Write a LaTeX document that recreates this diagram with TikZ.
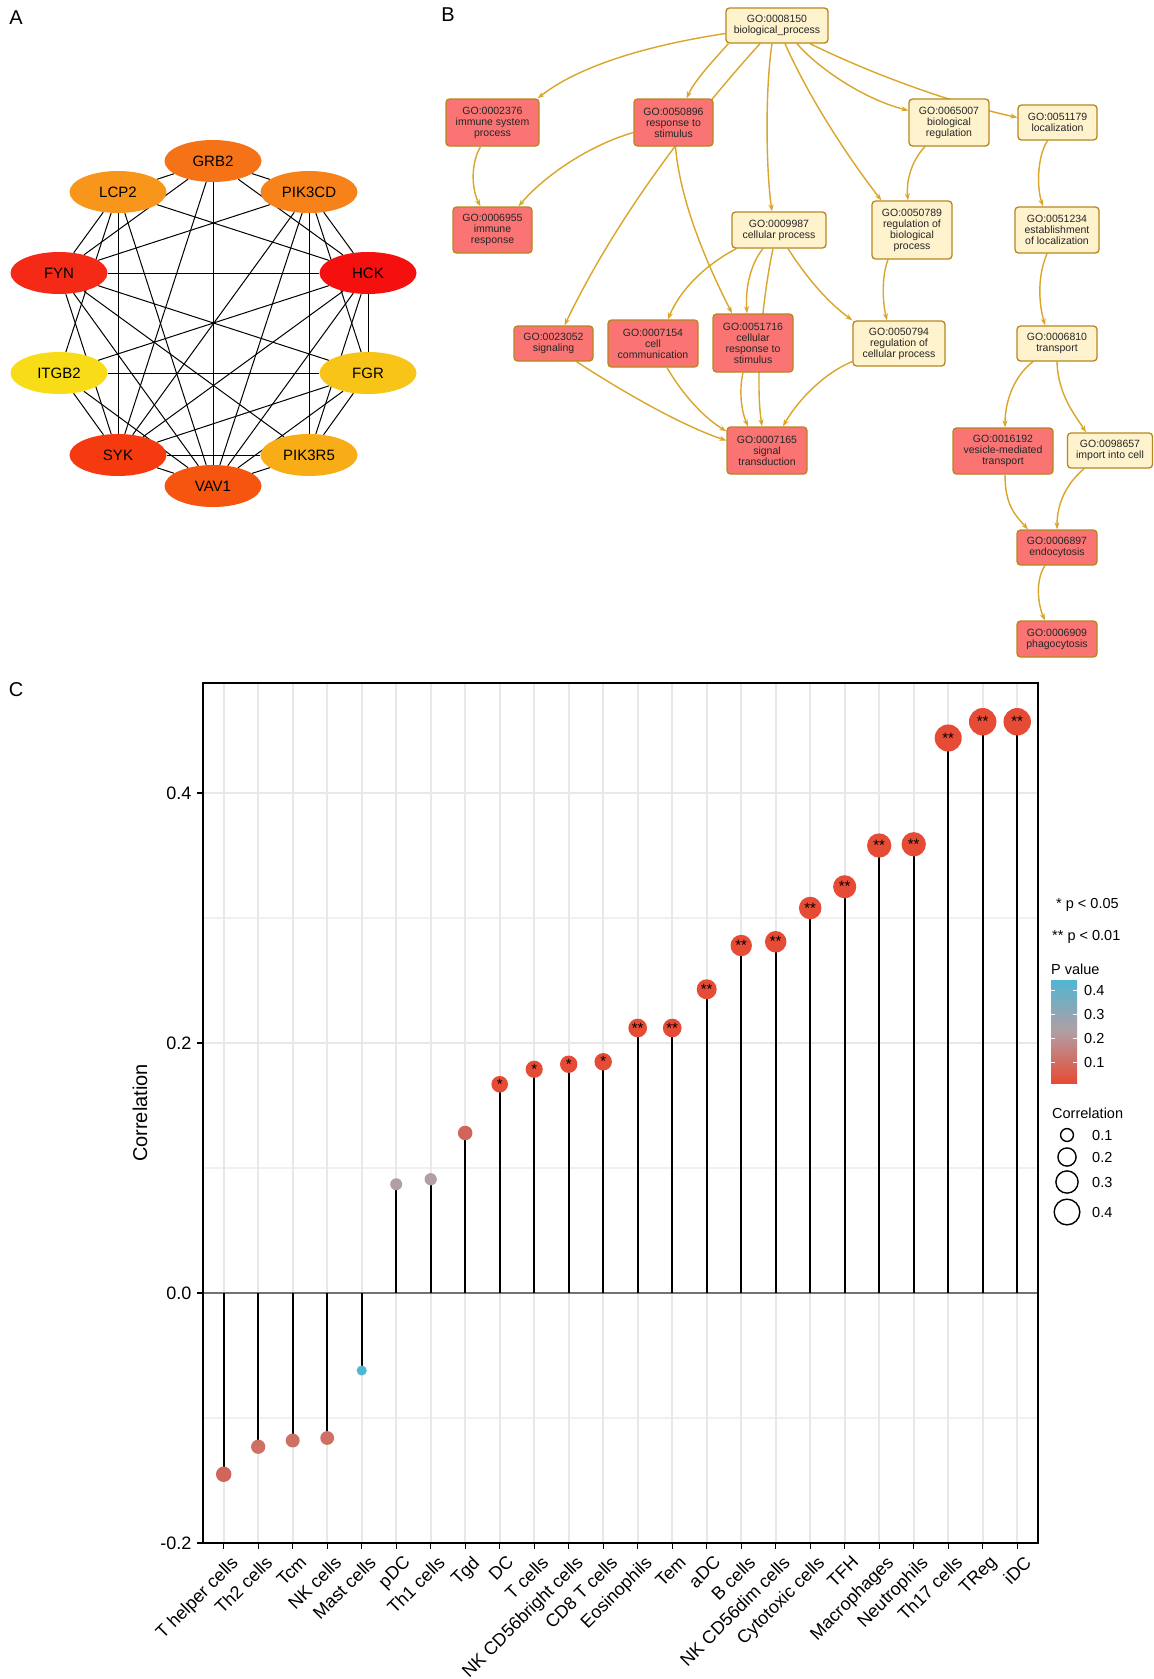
\documentclass[tikz,border=0pt]{standalone}
\usepackage{fontspec}
\setmainfont{Liberation Sans}
\usetikzlibrary{arrows.meta,shapes.geometric,backgrounds}

\definecolor{colgrb}{RGB}{245,115,22}
\definecolor{collcp}{RGB}{247,150,26}
\definecolor{colpcd}{RGB}{246,130,25}
\definecolor{colfyn}{RGB}{245,42,22}
\definecolor{colhck}{RGB}{245,15,15}
\definecolor{colitg}{RGB}{248,220,23}
\definecolor{colfgr}{RGB}{248,196,23}
\definecolor{colsyk}{RGB}{245,58,15}
\definecolor{colpr5}{RGB}{248,173,23}
\definecolor{colvav}{RGB}{245,85,15}
\definecolor{goline}{RGB}{218,165,40}
\definecolor{goframe}{RGB}{184,134,30}
\definecolor{gopale}{RGB}{255,243,205}
\definecolor{gored}{RGB}{250,116,116}
\definecolor{pred}{RGB}{230,75,53}
\definecolor{pblue}{RGB}{80,182,210}
\definecolor{pgrey}{RGB}{178,158,163}
\definecolor{pmida}{RGB}{208,102,90}
\definecolor{pmidb}{RGB}{206,112,100}

\newcommand{\pxfont}[1]{\fontsize{#1}{#1}\selectfont}
\newcommand{\gofont}{\fontsize{10.5}{11}\selectfont}

\begin{document}
\begin{tikzpicture}[x=1pt, y=-1pt,
    gene/.style={ellipse, minimum width=97, minimum height=42, inner sep=0pt, font=\pxfont{15}},
    ppi/.style={draw=black, line width=1pt},
    gobox/.style={draw=goframe, line width=1.3pt, rounded corners=3.5pt, align=center, inner sep=1pt, font=\gofont, text=black!85},
    gop/.style={gobox, fill=gopale},
    gor/.style={gobox, fill=gored},
    goedge/.style={draw=goline, line width=1.4pt, -{Stealth[length=7pt,width=5pt]}},
    gridmajor/.style={draw=black!9, line width=2pt},
    gridminor/.style={draw=black!6, line width=1.1pt},
    zeroline/.style={draw=black!55, line width=1.3pt},
    stem/.style={draw=black, line width=1.6pt},
    axistick/.style={draw=black, line width=1.2pt},
    ticklab/.style={font=\pxfont{18}},
    xlab/.style={font=\pxfont{18}, inner sep=1pt},
    sigmark/.style={font=\pxfont{15}, inner sep=0pt},
    leg/.style={font=\pxfont{14.5}, anchor=west, inner sep=0pt},
    panel/.style={font=\pxfont{20}}]
\useasboundingbox (0,0) rectangle (1154,1679);
\begin{scope}[on background layer]
  \fill[white] (0,0) rectangle (1154,1679);
\end{scope}

% panel A
\node[panel] (labA) at (16,18) {A};
\node[gene, fill=colgrb] (grb2) at (213,161) {GRB2};
\node[gene, fill=collcp] (lcp2) at (118,192) {LCP2};
\node[gene, fill=colpcd] (pik3cd) at (309,192) {PIK3CD};
\node[gene, fill=colfyn] (fyn) at (59,273) {FYN};
\node[gene, fill=colhck] (hck) at (368,273) {HCK};
\node[gene, fill=colitg] (itgb2) at (59,373) {ITGB2};
\node[gene, fill=colfgr] (fgr) at (368,373) {FGR};
\node[gene, fill=colsyk] (syk) at (118,455) {SYK};
\node[gene, fill=colpr5] (pik3r5) at (309,455) {PIK3R5};
\node[gene, fill=colvav] (vav1) at (213,486) {VAV1};

\begin{scope}[on background layer]
  \foreach \a/\b in {grb2/lcp2, grb2/pik3cd, grb2/vav1, grb2/syk, grb2/fyn, grb2/hck,
      lcp2/fyn, lcp2/itgb2, lcp2/syk, lcp2/vav1, lcp2/hck,
      pik3cd/fyn, pik3cd/syk, pik3cd/vav1, pik3cd/pik3r5, pik3cd/fgr, pik3cd/hck,
      fyn/hck, fyn/fgr, fyn/syk, fyn/vav1, fyn/pik3r5,
      hck/itgb2, hck/fgr, hck/syk, hck/vav1, hck/pik3r5,
      itgb2/fgr, itgb2/syk, itgb2/vav1,
      fgr/syk, fgr/vav1, fgr/pik3r5,
      syk/pik3r5, syk/vav1, pik3r5/vav1}
    \draw[ppi] (\a) -- (\b);
\end{scope}

% panel B
\node[panel] (labB) at (448,15) {B};
\node[gop, minimum width=102, minimum height=35] (bp) at (777,25.5) {GO:0008150\\biological\_process};
\node[gor, minimum width=93, minimum height=47] (go2376) at (492.5,122.5) {GO:0002376\\immune system\\process};
\node[gor, minimum width=79, minimum height=47] (go50896) at (673.5,122.5) {GO:0050896\\response to\\stimulus};
\node[gor, minimum width=79, minimum height=46] (go6955) at (492.5,230) {GO:0006955\\immune\\response};
\node[gop, minimum width=94, minimum height=36] (go9987) at (779,230) {GO:0009987\\cellular process};
\node[gop, minimum width=80, minimum height=47] (go65007) at (949,122.5) {GO:0065007\\biological\\regulation};
\node[gop, minimum width=79, minimum height=35] (go51179) at (1057.5,122.5) {GO:0051179\\localization};
\node[gop, minimum width=80, minimum height=58] (go50789) at (912,230) {GO:0050789\\regulation of\\biological\\process};
\node[gop, minimum width=84, minimum height=46] (go51234) at (1057,230) {GO:0051234\\establishment\\of localization};
\node[gor, minimum width=79, minimum height=35] (go23052) at (553.5,343.5) {GO:0023052\\signaling};
\node[gor, minimum width=90, minimum height=47] (go7154) at (653,343.5) {GO:0007154\\cell\\communication};
\node[gor, minimum width=80, minimum height=58] (go51716) at (753,343) {GO:0051716\\cellular\\response to\\stimulus};
\node[gop, minimum width=92, minimum height=45] (go50794) at (899,343.5) {GO:0050794\\regulation of\\cellular process};
\node[gor, minimum width=80, minimum height=47] (go7165) at (767,450.5) {GO:0007165\\signal\\transduction};
\node[gop, minimum width=80, minimum height=35] (go6810) at (1057,343.5) {GO:0006810\\transport};
\node[gor, minimum width=100, minimum height=46] (go16192) at (1003,451) {GO:0016192\\vesicle-mediated\\transport};
\node[gop, minimum width=85, minimum height=35] (go98657) at (1110,450.5) {GO:0098657\\import into cell};
\node[gor, minimum width=80, minimum height=35] (go6897) at (1057,547.5) {GO:0006897\\endocytosis};
\node[gor, minimum width=80, minimum height=36] (go6909) at (1057,639) {GO:0006909\\phagocytosis};

\begin{scope}[on background layer]
  \draw[goedge] ([yshift=-8]bp.west) .. controls (650,45) and (580,65) .. ([xshift=-2]go2376.north east);
  \draw[goedge] ([xshift=3]bp.south west) .. controls (712,62) and (695,80) .. ([xshift=13]go50896.north);
  \draw[goedge] ([xshift=-17]bp.south) .. controls (700,110) and (620,210) .. ([xshift=11]go23052.north);
  \draw[goedge] ([xshift=-5]bp.south) .. controls (765,90) and (766,170) .. ([xshift=-7]go9987.north);
  \draw[goedge] ([xshift=20]bp.south) .. controls (815,65) and (860,98) .. ([yshift=12]go65007.west);
  \draw[goedge] ([xshift=33]bp.south) .. controls (880,78) and (960,105) .. ([yshift=5]go51179.west);
  \draw[goedge] ([xshift=8]bp.south) .. controls (810,100) and (850,160) .. ([xshift=10]go50789.north west);
  \draw[goedge] ([xshift=-24]go65007.south) .. controls (912,160) and (906,180) .. ([xshift=-4]go50789.north);
  \draw[goedge] ([xshift=-10]go51179.south) .. controls (1038,155) and (1036,185) .. ([xshift=-14]go51234.north);
  \draw[goedge] ([xshift=-10]go51234.south) .. controls (1038,275) and (1038,300) .. ([xshift=-12]go6810.north);
  \draw[goedge] ([xshift=-24]go6810.south) .. controls (1015,375) and (1005,400) .. ([xshift=2]go16192.north);
  \draw[goedge] (go6810.south) .. controls (1058,395) and (1075,415) .. ([xshift=-24]go98657.north);
  \draw[goedge] ([xshift=2]go16192.south) .. controls (1005,505) and (1015,515) .. ([xshift=-29]go6897.north);
  \draw[goedge] ([xshift=-26]go98657.south) .. controls (1065,485) and (1057,505) .. (go6897.north);
  \draw[goedge] ([xshift=-12]go6897.south) .. controls (1035,580) and (1038,605) .. ([xshift=-12]go6909.north);
  \draw[goedge] ([xshift=-12]go2376.south) .. controls (470,165) and (472,190) .. ([xshift=-12]go6955.north);
  \draw[goedge] ([yshift=-10]go50896.west) .. controls (590,145) and (545,175) .. ([xshift=26]go6955.north);
  \draw[goedge] ([xshift=2]go50896.south) .. controls (680,200) and (705,260) .. ([xshift=-21]go51716.north);
  \draw[goedge] ([xshift=5]go9987.south west) .. controls (705,265) and (680,290) .. ([xshift=15]go7154.north);
  \draw[goedge] ([xshift=-16]go9987.south) .. controls (752,262) and (745,285) .. ([xshift=-6]go51716.north);
  \draw[goedge] ([xshift=-6]go9987.south) .. controls (762,300) and (755,380) .. ([xshift=-5]go7165.north);
  \draw[goedge] ([xshift=9]go9987.south) .. controls (805,275) and (825,300) .. (go50794.north west);
  \draw[goedge] ([xshift=-24]go50789.south) .. controls (882,275) and (882,300) .. ([xshift=-12]go50794.north);
  \draw[goedge] ([xshift=23]go23052.south) .. controls (620,390) and (680,425) .. ([yshift=10]go7165.west);
  \draw[goedge] ([xshift=14]go7154.south) .. controls (680,390) and (700,415) .. ([yshift=-5]go7165.north west);
  \draw[goedge] ([xshift=-10]go51716.south) .. controls (739,390) and (741,410) .. ([xshift=-19]go7165.north);
  \draw[goedge] ([yshift=-18]go50794.west) .. controls (820,375) and (795,405) .. ([xshift=16]go7165.north);
\end{scope}

% panel C
\node[panel] (labC) at (16,690) {C};
\foreach \v in {0.3,0.1,-0.1}{
  \pgfmathsetmacro\yy{1293-1250*\v}
  \draw[gridminor] (203,\yy) -- (1038,\yy);
}
\foreach \v in {0.4,0.2,-0.2}{
  \pgfmathsetmacro\yy{1293-1250*\v}
  \draw[gridmajor] (203,\yy) -- (1038,\yy);
}
\foreach \i in {1,...,24}{
  \pgfmathsetmacro\xx{203+(\i-0.4)*34.5}
  \draw[gridmajor] (\xx,683) -- (\xx,1543);
  \draw[axistick] (\xx,1543) -- (\xx,1549);
}
\draw[zeroline] (203,1293) -- (1038,1293);
\foreach \v/\t [count=\k] in {0.4/0.4, 0.2/0.2, 0.0/0.0, -0.2/-0.2}{
  \pgfmathsetmacro\yy{1293-1250*\v}
  \draw[axistick] (197,\yy) -- (203,\yy);
  \node[ticklab, anchor=east] (yt\k) at (195,\yy) {\t};
}
\foreach \i/\cname/\cv/\pc/\sig in {
    1/T helper cells/-0.145/pmida/{},
    2/Th2 cells/-0.123/pmidb/{},
    3/Tcm/-0.118/pmidb/{},
    4/NK cells/-0.116/pmidb/{},
    5/Mast cells/-0.062/pblue/{},
    6/pDC/0.087/pgrey/{},
    7/Th1 cells/0.091/pgrey/{},
    8/Tgd/0.128/pmida/{},
    9/DC/0.167/pred/*,
    10/T cells/0.179/pred/*,
    11/NK CD56bright cells/0.183/pred/*,
    12/CD8 T cells/0.185/pred/*,
    13/Eosinophils/0.212/pred/**,
    14/Tem/0.212/pred/**,
    15/aDC/0.243/pred/**,
    16/B cells/0.278/pred/**,
    17/NK CD56dim cells/0.281/pred/**,
    18/Cytotoxic cells/0.308/pred/**,
    19/TFH/0.325/pred/**,
    20/Macrophages/0.358/pred/**,
    21/Neutrophils/0.359/pred/**,
    22/Th17 cells/0.444/pred/**,
    23/TReg/0.457/pred/**,
    24/iDC/0.457/pred/**}{
  \pgfmathsetmacro\xx{203+(\i-0.4)*34.5}
  \pgfmathsetmacro\yy{1293-1250*\cv}
  \pgfmathsetmacro\rad{20.3*sqrt(abs(\cv))}
  \draw[stem] (\xx,1293) -- (\xx,\yy);
  \fill[\pc] (\xx,\yy) circle[radius=\rad];
  \node[sigmark] (sg\i) at (\xx,\yy) {\sig};
  \node[xlab, anchor=north east, rotate=45] (xl\i) at (\xx+6,1553) {\cname};
}
\draw[line width=1.4pt] (203,683) rectangle (1038,1543);
\node[rotate=90, font=\pxfont{20}] (ytitle) at (140,1113) {Correlation};

% legend
\node[leg] (lgs1) at (1056,905) {* p < 0.05};
\node[leg] (lgs2) at (1052,937) {** p < 0.01};
\node[leg] (lgp) at (1051,969) {P value};
\shade[top color=pblue, bottom color=pred, middle color=pgrey] (1051,980) rectangle (1077,1083);
\foreach \p in {0.1,0.2,0.3,0.4}{
  \pgfmathsetmacro\yy{1086-240*\p}
  \draw[white, line width=1pt] (1051,\yy) -- (1055,\yy) (1073,\yy) -- (1077,\yy);
  \node[leg] (lgt\p) at (1084,\yy) {\p};
}
\node[leg] (lgc) at (1052,1113) {Correlation};
\foreach \cv/\yy in {0.1/1135, 0.2/1157, 0.3/1182, 0.4/1212}{
  \pgfmathsetmacro\rad{20.3*sqrt(\cv)}
  \draw[line width=1.4pt] (1067,\yy) circle[radius=\rad];
  \node[leg] (lgr\cv) at (1092,\yy) {\cv};
}
\end{tikzpicture}
\end{document}
